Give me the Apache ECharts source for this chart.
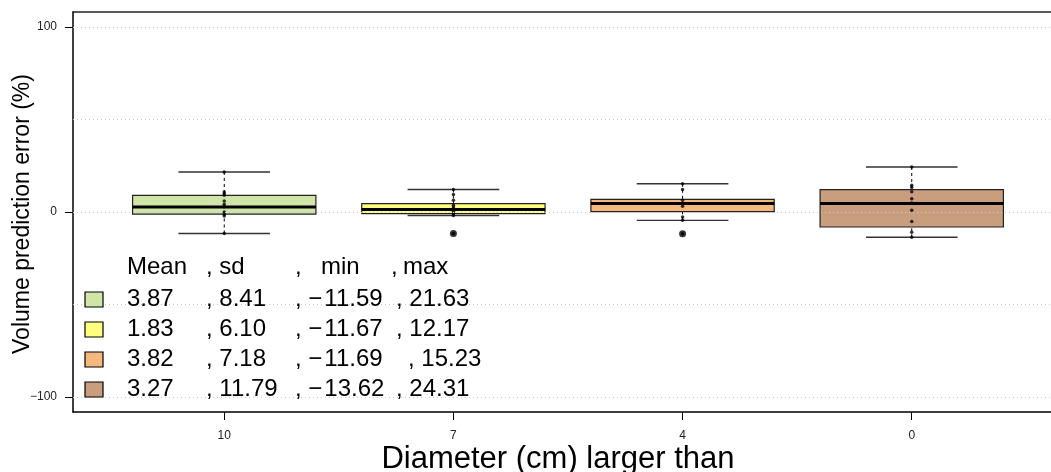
<!DOCTYPE html>
<html><head><meta charset="utf-8">
<script src="https://cdn.jsdelivr.net/npm/echarts@6/dist/echarts.min.js"></script>
<style>html,body{margin:0;padding:0;background:#fff}#c{width:1051px;height:472px}</style>
</head><body><div id="c"></div>
<script>
// ---- data ----
const categories = ['10', '7', '4', '0'];
const whiskerLow  = [-11.59, -1.9, -4.5, -13.62];
const q1          = [-1.2, -0.9, 0.2, -8.1];
const median      = [2.7, 1.3, 4.6, 4.6];
const q3          = [9.0, 4.5, 6.8, 12.1];
const whiskerHigh = [21.63, 12.17, 15.23, 24.31];
const outliers10 = [];
const outliers7  = [-11.67];
const outliers4  = [-11.69];
const outliers0  = [];
const points10 = [21.63, 10.8, 9.9, 9.0, 6.0, 4.2, 2.9, 0.0, -1.2, -2.1, -11.59];
const points7  = [12.17, 9.4, 6.3, 3.6, 2.7, 1.8, 0.4, -0.9, -1.9, -11.67];
const points4  = [15.23, 12.1, 6.3, 4.6, 3.1, -2.7, -4.5, -11.69];
const points0  = [24.31, 14.4, 13.2, 11.0, 7.2, 4.8, 0.9, -5.1, -10.9, -13.62];
const means = [3.87, 1.83, 3.82, 3.27];
const sds   = [8.41, 6.10, 7.18, 11.79];
const mins  = [-11.59, -11.67, -11.69, -13.62];
const maxs  = [21.63, 12.17, 15.23, 24.31];
const headerLabels = ['Mean', 'sd', 'min', 'max'];
const yTickValues = [-100, 0, 100];
const gridValues = [-100, -50, 0, 50, 100];
const boxColors = ['#d1e5a9', '#ffff80', '#f6b87c', '#c99e7e'];

const xTitle = 'Diameter (cm) larger than';
const yTitle = 'Volume prediction error (%)';

// ---- build ----
const FONT = "'Liberation Sans', Arial, Helvetica, sans-serif";
const allPoints = [points10, points7, points4, points0];
const allOutliers = [outliers10, outliers7, outliers4, outliers0];
const boxData = categories.map((c, i) => [i + 1, whiskerLow[i], q1[i], median[i], q3[i], whiskerHigh[i]]);
const pointData = [];
allPoints.forEach((arr, i) => arr.forEach(v => pointData.push([i + 1, v])));
const outlierData = [];
allOutliers.forEach((arr, i) => arr.forEach(v => outlierData.push([i + 1, v])));

function fmtRich(v) { return (v < 0 ? '{m|\u2212}' : '') + Math.abs(v).toFixed(2); }

const chart = echarts.init(document.getElementById('c'), null, { renderer: 'canvas' });

// legend graphics
const LFS = 24;
const rowY = [299.5, 329.5, 359.5, 389.5];
const headerY = 267.5;
const colX = [127, 206, 295, 396];
const col4X = [396, 396, 408, 396];
const g = [];
const tStyle = (txt, x, y) => ({ type: 'text', x: x, y: y, z: 100,
  style: { text: txt, fontSize: LFS, fontFamily: FONT, fill: '#000', verticalAlign: 'middle', align: 'left',
    rich: { m: { fontSize: LFS, fontFamily: FONT, fill: '#000', width: 16, align: 'left' } } } });
g.push(tStyle(headerLabels[0], 127, headerY));
g.push(tStyle(', ' + headerLabels[1], 206, headerY));
g.push(tStyle(',', 295, headerY));
g.push(tStyle(headerLabels[2], 321, headerY));
g.push(tStyle(',', 391, headerY));
g.push(tStyle(headerLabels[3], 403, headerY));
for (let i = 0; i < categories.length; i++) {
  g.push({ type: 'rect', z: 100, shape: { x: 85, y: rowY[i] - 7.5, width: 18, height: 15 },
    style: { fill: boxColors[i], stroke: '#000', lineWidth: 1.2 } });
  g.push(tStyle(fmtRich(means[i]), colX[0], rowY[i]));
  g.push(tStyle(', ' + fmtRich(sds[i]), colX[1], rowY[i]));
  g.push(tStyle(', ' + fmtRich(mins[i]), colX[2], rowY[i]));
  g.push(tStyle(', ' + fmtRich(maxs[i]), col4X[i], rowY[i]));
}
// axis titles
g.push({ type: 'text', x: 558, y: 459, z: 100,
  style: { text: xTitle, fontSize: 31, fontFamily: FONT, fill: '#000', align: 'center', verticalAlign: 'middle' } });
g.push({ type: 'text', x: 23, y: 214, rotation: Math.PI / 2, z: 100,
  style: { text: yTitle, fontSize: 23, fontFamily: FONT, fill: '#000', align: 'center', verticalAlign: 'middle' } });

const X_MIN = 0.34, X_MAX = 4.6077;
const option = {
  animation: false,
  backgroundColor: '#fff',
  grid: { left: 73, top: 12, right: 0, height: 400, containLabel: false },
  xAxis: [{
    type: 'value', min: X_MIN, max: X_MAX,
    axisLine: { show: true, onZero: false, lineStyle: { color: '#000', width: 1.5 } },
    axisTick: { show: true, length: 8, customValues: [1, 2, 3, 4], lineStyle: { color: '#000', width: 1 } },
    axisLabel: { show: true, margin: 18, customValues: [1, 2, 3, 4], fontSize: 12, color: '#222', fontFamily: FONT,
      formatter: v => categories[Math.round(v) - 1] },
    splitLine: { show: false }
  }, {
    type: 'value', position: 'top', min: X_MIN, max: X_MAX,
    axisLine: { show: true, onZero: false, lineStyle: { color: '#222', width: 1.5 } },
    axisTick: { show: false }, axisLabel: { show: false }, splitLine: { show: false }
  }],
  yAxis: {
    type: 'value', min: -108, max: 108,
    axisLine: { show: true, onZero: false, lineStyle: { color: '#000', width: 1.5 } },
    axisTick: { show: true, length: 8, customValues: yTickValues, lineStyle: { color: '#000', width: 1 } },
    axisLabel: { show: true, margin: 16, customValues: yTickValues, fontSize: 12, color: '#222', fontFamily: FONT,
      formatter: v => (v < 0 ? '\u2212' : '') + Math.abs(v) },
    splitLine: { show: false }
  },
  series: [{
    type: 'custom', z: 2,
    encode: { x: 0, y: [1, 2, 3, 4, 5] },
    data: boxData,
    renderItem: function (params, api) {
      const x = api.value(0);
      const lo = api.value(1), a = api.value(2), m = api.value(3), b = api.value(4), hi = api.value(5);
      const hw = 0.4, sw = 0.2;
      const tl = api.coord([x - hw, b]), br = api.coord([x + hw, a]);
      const pHi = api.coord([x, hi]), pLo = api.coord([x, lo]);
      const pB = api.coord([x, b]), pA = api.coord([x, a]);
      const sL = api.coord([x - sw, hi])[0], sR = api.coord([x + sw, hi])[0];
      const mY = api.coord([x, m])[1];
      const col = boxColors[params.dataIndex];
      return { type: 'group', children: [
        { type: 'line', shape: { x1: pHi[0], y1: pHi[1], x2: pB[0], y2: pB[1] }, style: { stroke: '#000', lineWidth: 1, lineDash: [3, 3] } },
        { type: 'line', shape: { x1: pLo[0], y1: pLo[1], x2: pA[0], y2: pA[1] }, style: { stroke: '#000', lineWidth: 1, lineDash: [3, 3] } },
        { type: 'line', shape: { x1: sL, y1: pHi[1], x2: sR, y2: pHi[1] }, style: { stroke: '#333', lineWidth: 1.4 } },
        { type: 'line', shape: { x1: sL, y1: pLo[1], x2: sR, y2: pLo[1] }, style: { stroke: '#333', lineWidth: 1.4 } },
        { type: 'rect', shape: { x: tl[0], y: tl[1], width: br[0] - tl[0], height: br[1] - tl[1] }, style: { fill: col, stroke: '#222', lineWidth: 1.2 } },
        { type: 'line', shape: { x1: tl[0], y1: mY, x2: br[0], y2: mY }, style: { stroke: '#000', lineWidth: 3 } }
      ] };
    }
  }, {
    type: 'scatter', z: 3, symbol: 'circle', symbolSize: 3.5, data: pointData,
    itemStyle: { color: '#000' }, silent: true,
    markLine: { silent: true, symbol: 'none', label: { show: false }, animation: false,
      lineStyle: { color: '#c8c8c8', width: 1, type: [1, 3] },
      data: gridValues.map(v => ({ yAxis: v })) }
  }, {
    type: 'scatter', z: 3, symbol: 'circle', symbolSize: 7, data: outlierData,
    itemStyle: { color: '#000' }, silent: true
  }],
  graphic: g
};
chart.setOption(option);
</script>
</body></html>
